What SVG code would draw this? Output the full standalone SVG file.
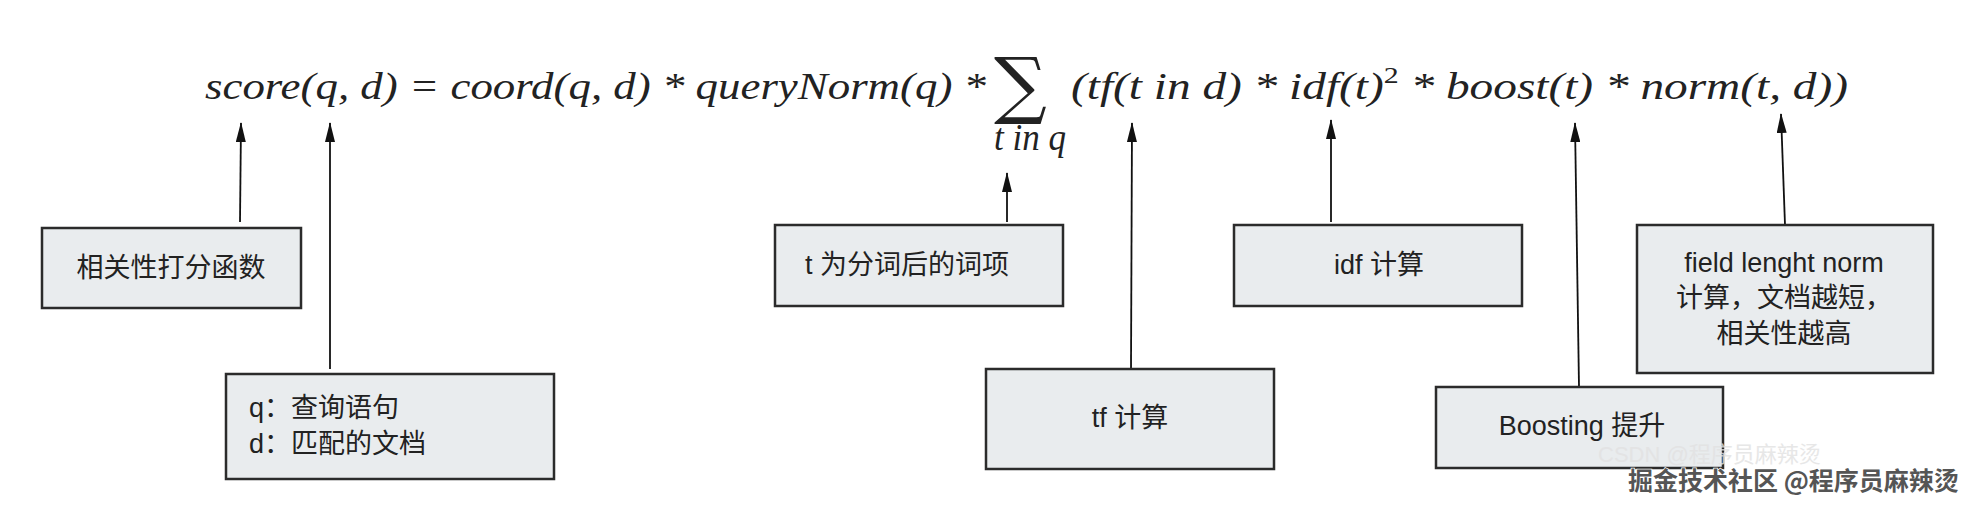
<svg xmlns="http://www.w3.org/2000/svg" width="1982" height="506" viewBox="0 0 1982 506">
<defs>
<marker id="ah" viewBox="0 0 20 10" refX="19" refY="5" markerWidth="20" markerHeight="10" markerUnits="userSpaceOnUse" orient="auto">
<path d="M0 0 L20 5 L0 10 Z" fill="#111"/>
</marker>
</defs>
<style>
.box{fill:#e9ecee;stroke:#2b2b2b;stroke-width:2.5}
.lbl{font-family:"Liberation Sans","Noto Sans CJK SC",sans-serif;font-size:27px;fill:#222}
.f{font-family:"Liberation Serif",serif;font-style:italic;font-size:38px;fill:#222}
.c{stroke:#111;stroke-width:1.8;fill:none}
</style>
<rect width="1982" height="506" fill="#fff"/>
<g id="formula">
<text class="f" x="205" y="99" textLength="781" lengthAdjust="spacingAndGlyphs">score(q, d) = coord(q, d) * queryNorm(q) *</text>
<text x="994" y="110" font-family="DejaVu Serif,serif" font-size="74" fill="#222">∑</text>
<text class="f" x="994" y="150" font-size="26" textLength="72" lengthAdjust="spacingAndGlyphs">t in q</text>
<text class="f" x="1071" y="99" textLength="777" lengthAdjust="spacingAndGlyphs">(tf(t in d) * idf(t)<tspan font-size="24" dy="-16" font-style="normal">2</tspan><tspan dy="16"> * boost(t) * norm(t, d))</tspan></text>
</g>
<g id="connectors">
<line class="c" x1="240" y1="222" x2="241" y2="123" marker-end="url(#ah)"/>
<line class="c" x1="330" y1="369" x2="330" y2="123" marker-end="url(#ah)"/>
<line class="c" x1="1007" y1="222" x2="1007" y2="173" marker-end="url(#ah)"/>
<line class="c" x1="1131" y1="369" x2="1132" y2="123" marker-end="url(#ah)"/>
<line class="c" x1="1331" y1="222" x2="1331" y2="120" marker-end="url(#ah)"/>
<line class="c" x1="1579" y1="387" x2="1575" y2="123" marker-end="url(#ah)"/>
<line class="c" x1="1785" y1="225" x2="1781" y2="114" marker-end="url(#ah)"/>
</g>
<g id="n1"><rect class="box" x="42" y="228" width="259" height="80"/><text class="lbl" x="171" y="277" text-anchor="middle">相关性打分函数</text></g>
<g id="n2"><rect class="box" x="226" y="374" width="328" height="105"/><text class="lbl" x="249" y="417">q：查询语句</text><text class="lbl" x="249" y="453">d：匹配的文档</text></g>
<g id="n3"><rect class="box" x="775" y="225" width="288" height="81"/><text class="lbl" x="805" y="274">t 为分词后的词项</text></g>
<g id="n4"><rect class="box" x="986" y="369" width="288" height="100"/><text class="lbl" x="1130" y="427" text-anchor="middle">tf 计算</text></g>
<g id="n5"><rect class="box" x="1234" y="225" width="288" height="81"/><text class="lbl" x="1379" y="274" text-anchor="middle">idf 计算</text></g>
<g id="n6"><rect class="box" x="1436" y="387" width="287" height="81"/><text class="lbl" x="1582" y="435" text-anchor="middle">Boosting 提升</text></g>
<g id="n7"><rect class="box" x="1637" y="225" width="296" height="148"/><text class="lbl" x="1784" y="272" text-anchor="middle">field lenght norm</text><text class="lbl" x="1784" y="307" text-anchor="middle">计算，文档越短，</text><text class="lbl" x="1784" y="343" text-anchor="middle">相关性越高</text></g>
<g id="watermark">
<text x="1598" y="462" font-family="Liberation Sans,Noto Sans CJK SC,sans-serif" font-size="22" fill="#e2e2e2" opacity="0.8">CSDN @程序员麻辣烫</text>
<text x="1628" y="490" font-family="Noto Sans CJK SC,sans-serif" font-size="25" font-weight="bold" fill="#555" stroke="#fff" stroke-width="1.5" paint-order="stroke">掘金技术社区 @程序员麻辣烫</text>
</g>
</svg>
